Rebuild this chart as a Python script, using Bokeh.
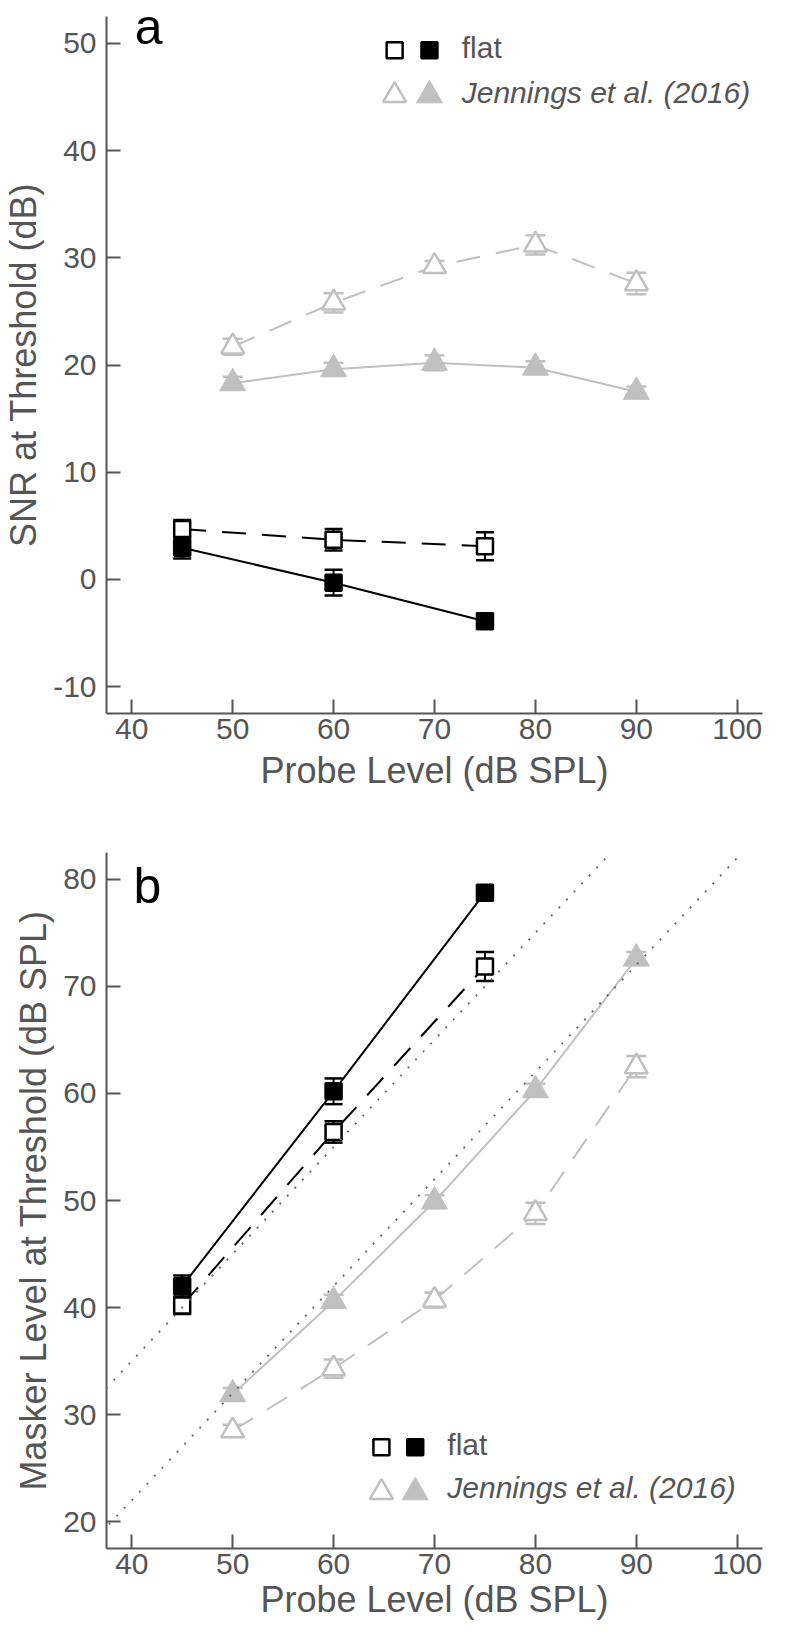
from bokeh.plotting import figure
from bokeh.models import ColumnDataSource, Whisker, TeeHead, Label, Range1d, FixedTicker, Slope
from bokeh.layouts import column
from bokeh.embed import file_html
from bokeh.resources import INLINE

# ---------------- data ----------------
probe_flat = [45, 60, 75]
probe_jen = [50, 60, 70, 80, 90]

# panel a: SNR at threshold (dB)
snr_flat_open = [4.7, 3.7, 3.1]
snr_flat_open_err = [0.85, 1.0, 1.3]
snr_flat_filled = [2.95, -0.3, -3.9]
snr_flat_filled_err = [1.0, 1.2, 0.7]
snr_jen_open = [21.7, 25.8, 29.2, 31.2, 27.6]
snr_jen_open_err = [0.75, 0.9, 0.5, 0.9, 1.0]
snr_jen_filled = [18.3, 19.6, 20.2, 19.75, 17.5]
snr_jen_filled_err = [0.6, 0.6, 0.7, 0.6, 0.5]

# panel b: masker level at threshold (dB SPL)
masker_flat_open = [40.2, 56.4, 71.85]
masker_flat_open_err = [0.8, 1.0, 1.35]
masker_flat_filled = [42.0, 60.2, 78.75]
masker_flat_filled_err = [1.0, 1.2, 0.7]
masker_jen_open = [28.5, 34.3, 40.7, 48.8, 62.5]
masker_jen_open_err = [0.55, 0.85, 0.7, 1.0, 1.0]
masker_jen_filled = [31.9, 40.6, 49.9, 60.3, 72.6]
masker_jen_filled_err = [0.6, 0.6, 0.6, 0.6, 0.6]

# dotted reference lines in panel b: masker = probe - snr
ref_snr = [5, 18]

x_ticks = [40, 50, 60, 70, 80, 90, 100]
y_ticks_a = [-10, 0, 10, 20, 30, 40, 50]
y_ticks_b = [20, 30, 40, 50, 60, 70, 80]
legend_labels = ["flat", "Jennings et al. (2016)"]
panel_letters = ["a", "b"]
x_title = "Probe Level (dB SPL)"
y_title_a = "SNR at Threshold (dB)"
y_title_b = "Masker Level at Threshold (dB SPL)"

# ---------------- style ----------------
FONT = "Liberation Sans"
BLACK = "#000000"
GRAY = "#c0c0c0"
AXC = "#555555"
DASH = "24 16"


def add_series(p, x, y, err, color, marker, filled, dash):
    src = ColumnDataSource(dict(
        x=x, y=y,
        upper=[v + e for v, e in zip(y, err)],
        lower=[v - e for v, e in zip(y, err)],
    ))
    p.line("x", "y", source=src, line_color=color, line_width=2, line_dash=dash)
    cap = 18 if marker == "square" else 20
    w = Whisker(source=src, base="x", upper="upper", lower="lower", dimension="height",
                line_color=color, line_width=2,
                upper_head=TeeHead(size=cap, line_color=color, line_width=2.5),
                lower_head=TeeHead(size=cap, line_color=color, line_width=2.5))
    p.add_layout(w)
    if marker == "square":
        size, lw = 16, 2.5
    else:
        size, lw = (26, 1) if filled else (23, 2.5)
    p.scatter("x", "y", source=src, marker=marker, size=size,
              fill_color=color if filled else "white", line_color=color, line_width=lw)


def make_panel(height, top, bottom, right, y_range, y_ticks, y_title, xlab_standoff):
    p = figure(width=770, height=height, x_range=Range1d(37.5, 102.5), y_range=Range1d(*y_range),
               output_backend="svg", toolbar_location=None,
               min_border_left=101, min_border_right=right, min_border_top=top,
               min_border_bottom=bottom)
    p.xgrid.visible = False
    p.ygrid.visible = False
    p.outline_line_color = None
    p.background_fill_color = "white"
    p.border_fill_color = "white"
    p.xaxis.ticker = FixedTicker(ticks=x_ticks)
    p.yaxis.ticker = FixedTicker(ticks=y_ticks)
    p.yaxis.major_label_overrides = {t: str(t) for t in y_ticks}
    p.xaxis.axis_label = x_title
    p.yaxis.axis_label = y_title
    for ax, standoff in ((p.xaxis, 5), (p.yaxis, 10)):
        ax.axis_line_color = AXC
        ax.axis_line_width = 2
        ax.major_tick_line_color = AXC
        ax.major_tick_line_width = 2
        ax.major_tick_in = 14
        ax.major_tick_out = 0
        ax.minor_tick_line_color = None
        ax.major_label_text_font = FONT
        ax.major_label_text_font_size = "30px"
        ax.major_label_text_color = AXC
        ax.major_label_standoff = standoff
        ax.axis_label_text_font = FONT
        ax.axis_label_text_font_size = "36px"
        ax.axis_label_text_font_style = "normal"
        ax.axis_label_text_color = AXC
    p.xaxis.axis_label_standoff = xlab_standoff
    p.yaxis.axis_label_standoff = 6
    return p


def add_legend(p, lay):
    xs1, xs2, xt, ys, yt_s, ytri, yt_t = lay
    p.scatter([xs1], [ys], marker="square", size=16, fill_color="white", line_color=BLACK, line_width=2.5)
    p.scatter([xs2], [ys], marker="square", size=16, fill_color=BLACK, line_color=BLACK, line_width=2.5)
    p.scatter([xs1], [ytri], marker="triangle", size=23, fill_color="white", line_color=GRAY, line_width=2.5)
    p.scatter([xs2], [ytri], marker="triangle", size=26, fill_color=GRAY, line_color=GRAY, line_width=1)
    p.add_layout(Label(x=xt, y=yt_s, text=legend_labels[0], text_font=FONT, text_font_size="30px",
                       text_color=AXC, text_baseline="middle"))
    p.add_layout(Label(x=xt, y=yt_t, text=legend_labels[1], text_font=FONT, text_font_size="30px",
                       text_font_style="italic", text_color=AXC, text_baseline="middle"))


# ---------------- panel a ----------------
pa = make_panel(838, 16, 125, 8, (-12.5, 52.5), y_ticks_a, y_title_a, 8)
add_series(pa, probe_jen, snr_jen_open, snr_jen_open_err, GRAY, "triangle", False, DASH)
add_series(pa, probe_jen, snr_jen_filled, snr_jen_filled_err, GRAY, "triangle", True, "solid")
add_series(pa, probe_flat, snr_flat_open, snr_flat_open_err, BLACK, "square", False, DASH)
add_series(pa, probe_flat, snr_flat_filled, snr_flat_filled_err, BLACK, "square", True, "solid")
add_legend(pa, (66.05, 69.5, 72.7, 49.35, 49.65, 45.15, 45.45))
pa.add_layout(Label(x=40.3, y=51.5, text=panel_letters[0], text_font=FONT, text_font_size="50px",
                    text_color=BLACK, text_baseline="alphabetic"))

# ---------------- panel b ----------------
pb = make_panel(790, 14, 80, 0, (17.5, 82.5), y_ticks_b, y_title_b, 2)
for s in ref_snr:
    pb.add_layout(Slope(gradient=1, y_intercept=-s, line_color="#666666", line_width=1.8, line_dash="2 9"))
add_series(pb, probe_jen, masker_jen_open, masker_jen_open_err, GRAY, "triangle", False, DASH)
add_series(pb, probe_jen, masker_jen_filled, masker_jen_filled_err, GRAY, "triangle", True, "solid")
add_series(pb, probe_flat, masker_flat_open, masker_flat_open_err, BLACK, "square", False, DASH)
add_series(pb, probe_flat, masker_flat_filled, masker_flat_filled_err, BLACK, "square", True, "solid")
add_legend(pb, (64.74, 68.09, 71.27, 26.95, 27.19, 22.75, 23.21))
pb.add_layout(Label(x=40.17, y=79.4, text=panel_letters[1], text_font=FONT, text_font_size="50px",
                    text_color=BLACK, text_baseline="alphabetic"))

layout = column(pa, pb, spacing=0)
open("out.html", "w").write(file_html(layout, INLINE))
